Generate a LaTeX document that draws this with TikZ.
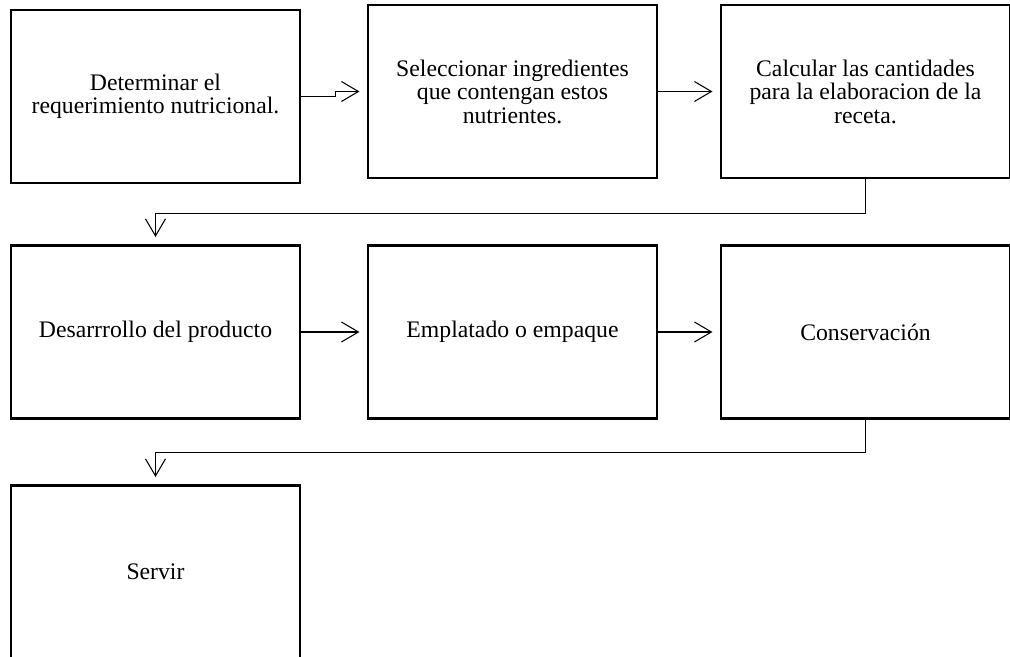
\documentclass[tikz,border=0pt]{standalone}
\usepackage{fontspec}
\setmainfont{Liberation Serif}
\usetikzlibrary{arrows.meta}

\begin{document}
\begin{tikzpicture}[
  box/.style={draw, line width=1.2pt, minimum width=5.78cm, minimum height=3.46cm, align=center, inner sep=2pt, font=\fontsize{13.5}{13.4}\selectfont},
  flow/.style={line width=0.6pt, -{Straight Barb[length=3.4mm,width=4mm]}, shorten >=1.5mm}
]
\useasboundingbox (0,0) rectangle (20.2,13.14);

\node[box] (requerimiento) at (3.11,11.21) {Determinar el\\requerimiento nutricional.};
\node[box] (ingredientes) at (10.25,11.31) {Seleccionar ingredientes\\que contengan estos\\nutrientes.};
\node[box] (cantidades) at (17.31,11.31) {Calcular las cantidades\\para la elaboracion de la\\receta.};

\node[box] (desarrollo) at (3.11,6.5) {Desarrrollo del producto};
\node[box] (emplatado) at (10.25,6.5) {Emplatado o empaque};
\node[box] (conservacion) at (17.31,6.5) {Conservación};

\node[box] (servir) at (3.11,1.7) {Servir};

\draw[flow] (requerimiento.east) -- ++(0.68,0) |- (ingredientes.west);
\draw[flow] (ingredientes) -- (cantidades);
\draw[flow] (cantidades.south) -- ++(0,-0.68) -| (desarrollo.north);

\draw[flow] (desarrollo) -- (emplatado);
\draw[flow] (emplatado) -- (conservacion);
\draw[flow] (conservacion.south) -- ++(0,-0.66) -| (servir.north);
\end{tikzpicture}
\end{document}
